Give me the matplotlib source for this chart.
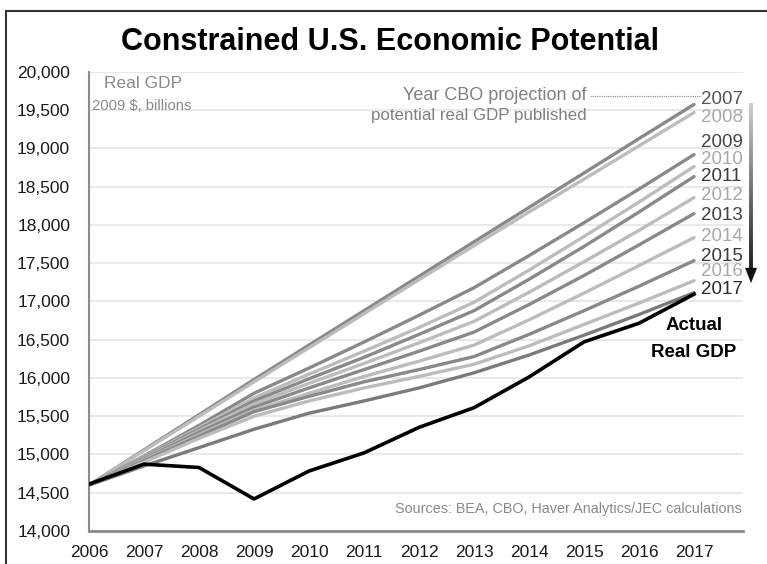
import numpy as np
import matplotlib
matplotlib.use('Agg')
from matplotlib import pyplot as plt
from matplotlib.collections import LineCollection
from matplotlib.ticker import FuncFormatter

plt.rcParams['font.family'] = ['Liberation Sans', 'DejaVu Sans']

# Years on the x axis
years = [2006, 2007, 2008, 2009, 2010, 2011, 2012, 2013, 2014, 2015, 2016, 2017]

# Actual real GDP, 2009 $ billions
actual_gdp = [14613, 14874, 14830, 14419, 14784, 15021, 15355, 15612, 16013, 16472, 16716, 17096]

# CBO projections of potential real GDP, by year published
vintages = ['2007', '2008', '2009', '2010', '2011', '2012', '2013', '2014', '2015', '2016', '2017']
cbo_2007 = [14600, 15060, 15520, 15980, 16430, 16880, 17330, 17780, 18230, 18680, 19130, 19576]
cbo_2008 = [14600, 15050, 15500, 15950, 16395, 16840, 17285, 17730, 18170, 18600, 19035, 19470]
cbo_2009 = [14600, 14980, 15380, 15800, 16130, 16470, 16820, 17180, 17600, 18030, 18470, 18921]
cbo_2010 = [14600, 14970, 15350, 15740, 16050, 16350, 16660, 16990, 17410, 17850, 18300, 18764]
cbo_2011 = [14600, 14960, 15330, 15700, 15990, 16270, 16570, 16880, 17290, 17720, 18170, 18633]
cbo_2012 = [14600, 14950, 15310, 15660, 15930, 16190, 16460, 16740, 17120, 17520, 17930, 18358]
cbo_2013 = [14600, 14940, 15290, 15620, 15870, 16110, 16350, 16600, 16960, 17340, 17740, 18149]
cbo_2014 = [14600, 14930, 15260, 15580, 15800, 16020, 16220, 16430, 16760, 17110, 17470, 17835]
cbo_2015 = [14600, 14920, 15240, 15560, 15760, 15950, 16110, 16280, 16570, 16880, 17200, 17534]
cbo_2016 = [14600, 14900, 15210, 15500, 15700, 15870, 16020, 16180, 16420, 16700, 16980, 17272]
cbo_2017 = [14600, 14850, 15090, 15330, 15540, 15700, 15870, 16068, 16300, 16560, 16830, 17115]
projections = [cbo_2007, cbo_2008, cbo_2009, cbo_2010, cbo_2011, cbo_2012,
               cbo_2013, cbo_2014, cbo_2015, cbo_2016, cbo_2017]

# where the vintage labels sit at the right edge (y in data units)
label_y = [19641, 19406, 19080, 18860, 18640, 18380, 18120, 17845, 17585, 17390, 17154]

dark_line = '#898989'
light_line = '#bcbcbc'
dark_text = ['#555555', '#444444', '#3a3a3a', '#404040', '#3a3a3a', '#2a2a2a']
light_text = '#a8a8a8'

fig = plt.figure(figsize=(7.67, 5.64), dpi=100)
ax = fig.add_axes([89/767, 33/564, (743-89)/767, (531-72)/564])

for i, vals in enumerate(projections):
    col = dark_line if i % 2 == 0 else light_line
    if i == len(projections) - 1:
        col = '#7a7a7a'
    ax.plot(years, vals, color=col, lw=2.4, solid_capstyle='round', zorder=3)

ax.plot(years, actual_gdp, color='black', lw=2.6, zorder=4)

# vintage labels
for i, (lab, yy) in enumerate(zip(vintages, label_y)):
    col = dark_text[i // 2] if i % 2 == 0 else light_text
    ax.text(2017.13, yy, lab, color=col, fontsize=13.5,
            ha='left', va='center', zorder=5)

ax.set_xlim(2006, 2017.89)
ax.set_ylim(14000, 20000)
ax.set_xticks(years)
ax.set_yticks(np.arange(14000, 20001, 500))
ax.yaxis.set_major_formatter(FuncFormatter(lambda v, p: f'{int(v):,}'))
ax.tick_params(axis='both', length=0, labelsize=12.5, colors='#1a1a1a')
ax.tick_params(axis='y', pad=13.5)
ax.tick_params(axis='x', pad=10)
ax.grid(axis='y', color='#e9e9e9', lw=1.5, zorder=0)
ax.set_axisbelow(True)
for s in ['top', 'right']:
    ax.spines[s].set_visible(False)
ax.spines['left'].set_color('#8c8c8c')
ax.spines['left'].set_linewidth(1.5)
ax.spines['bottom'].set_color('#8c8c8c')
ax.spines['bottom'].set_linewidth(2)

# annotations
ax.text(2006.27, 19850, 'Real GDP', color='#8a8a8a', fontsize=12.5, ha='left', va='center')
ax.text(2006.05, 19560, '2009 $, billions', color='#8a8a8a', fontsize=10.6, ha='left', va='center')
ax.text(2015.05, 19690, 'Year CBO projection of', color='#808080', fontsize=13, ha='right', va='center')
ax.text(2015.05, 19430, 'potential real GDP published', color='#808080', fontsize=12.2, ha='right', va='center')
ax.plot([2015.1, 2017.1], [19690, 19690], color='#8a8a8a', lw=0.8, ls=(0, (1, 1)))
ax.text(2017.0, 16685, 'Actual', color='black', fontsize=13.5, fontweight='bold',
        ha='center', va='center')
ax.text(2017.0, 16330, 'Real GDP', color='black', fontsize=13.5, fontweight='bold',
        ha='center', va='center')
ax.text(2017.87, 14290, 'Sources: BEA, CBO, Haver Analytics/JEC calculations', color='#8a8a8a',
        fontsize=10.4, ha='right', va='center')

# gradient arrow on the right
arr_x = 2006 + (752 - 90) / 55
y_top, y_bot = 19600, 17420
ys = np.linspace(y_top, y_bot, 60)
segs = [[(arr_x, ys[k]), (arr_x, ys[k+1])] for k in range(len(ys)-1)]
shades = np.linspace(0.80, 0.12, len(segs))
lc = LineCollection(segs, colors=[(g, g, g) for g in shades], linewidths=2.8, clip_on=False, zorder=5)
ax.add_collection(lc)
hw = 6 / 55
ax.fill([arr_x - hw, arr_x + hw, arr_x], [17440, 17440, 17240], color='#111111',
        clip_on=False, zorder=6, lw=0)

fig.text(390/767, 1 - 42/564, 'Constrained U.S. Economic Potential', fontsize=22,
         fontweight='bold', ha='center', va='center')

# frame round the picture (top and left sides show)
fig.add_artist(plt.Line2D([6/767, 1], [1 - 11/564, 1 - 11/564], transform=fig.transFigure, color='#333333', lw=1.5))
fig.add_artist(plt.Line2D([6/767, 6/767], [0, 1 - 11/564], transform=fig.transFigure, color='#333333', lw=1.5))

fig.savefig('out.png', dpi=100)
